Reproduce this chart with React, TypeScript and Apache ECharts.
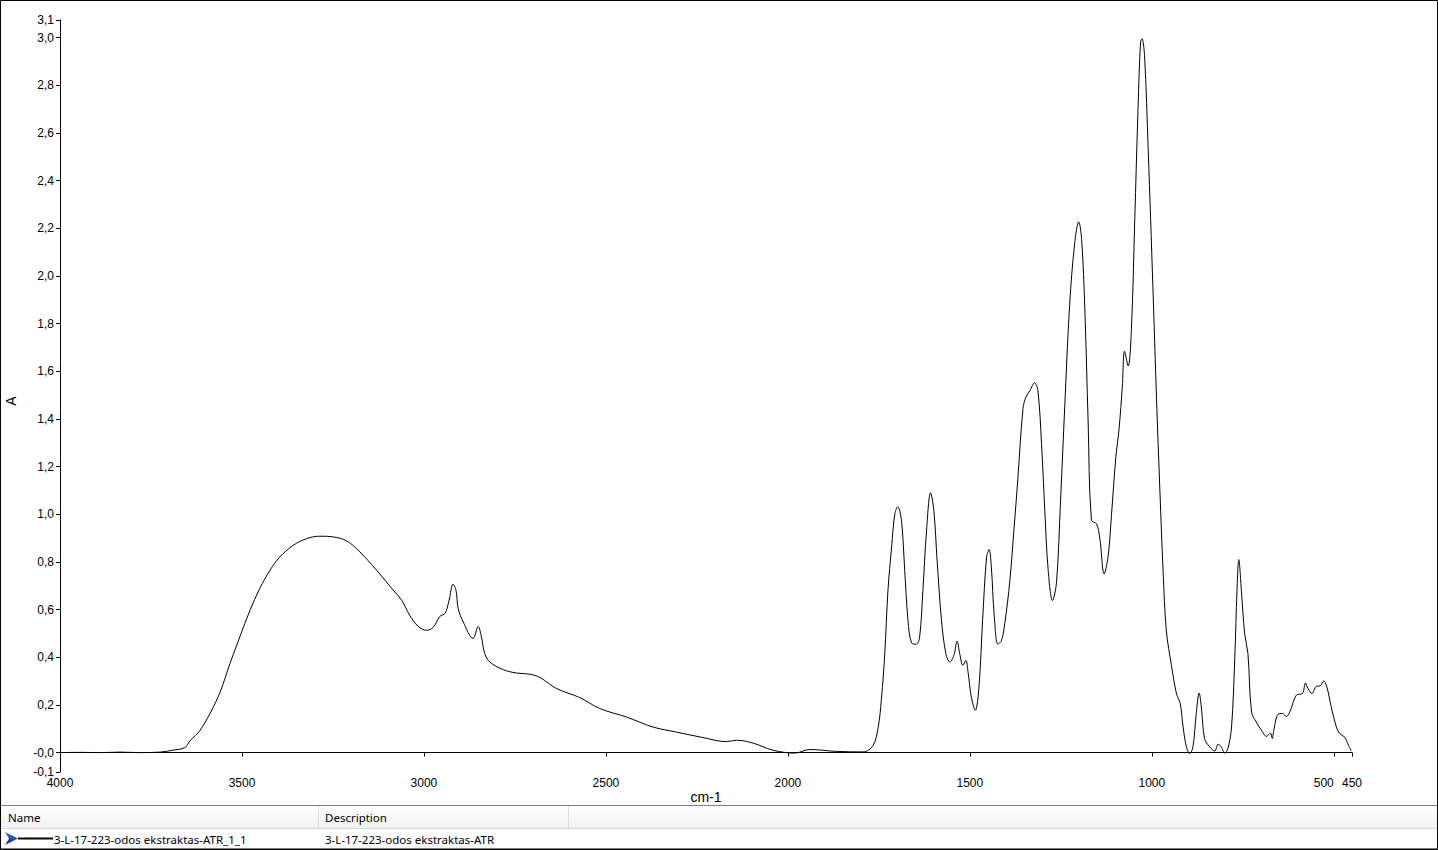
import React, { useEffect, useRef } from "react";
import * as echarts from "echarts";

// Spectrum: wavenumber (cm-1) and absorbance (A)
const wavenumbers = [
  4000, 3945, 3890, 3835, 3780, 3725, 3690, 3657, 3643, 3615, 3588, 3560, 3533, 3506, 3478, 3451, 3423, 3396, 3359, 3322,
  3286, 3249, 3212, 3176, 3130, 3084, 3061, 3039, 3016, 2993, 2975, 2956, 2942, 2931, 2920, 2912, 2906, 2892, 2865, 2851,
  2842, 2833, 2819, 2782, 2746, 2709, 2681, 2636, 2572, 2517, 2443, 2370, 2306, 2233, 2169, 2141, 2096, 2041, 1981, 1940,
  1866, 1793, 1766, 1752, 1743, 1734, 1725, 1715, 1706, 1698, 1688, 1679, 1670, 1660, 1647, 1638, 1629, 1619, 1608, 1599,
  1590, 1578, 1566, 1555, 1544, 1535, 1528, 1519, 1511, 1505, 1496, 1485, 1475, 1465, 1454, 1447, 1441, 1433, 1423, 1413,
  1404, 1390, 1379, 1368, 1354, 1346, 1335, 1322, 1313, 1303, 1294, 1285, 1273, 1262, 1251, 1239, 1226, 1212, 1201, 1193,
  1184, 1175, 1166, 1152, 1143, 1131, 1120, 1111, 1099, 1090, 1081, 1075, 1065, 1056, 1047, 1038, 1031, 1027, 1020, 1010,
  997, 987, 978, 969, 960, 946, 932, 922, 914, 905, 896, 887, 878, 870, 864, 855, 841, 827, 818, 809,
  800, 791, 781, 772, 766, 761, 754, 745, 736, 726, 713, 699, 685, 674, 669, 665, 653, 641, 630, 621,
  603, 586, 578, 571, 560, 548, 537, 528, 519, 507, 493, 484, 470, 461, 452,
];
const absorbance = [
  0.0, 0.001, 0.0, 0.002, 0.0, 0.002, 0.01, 0.021, 0.049, 0.094, 0.164, 0.254, 0.374, 0.485, 0.597, 0.689, 0.765, 0.821, 0.87, 0.898,
  0.908, 0.905, 0.888, 0.842, 0.765, 0.681, 0.639, 0.576, 0.53, 0.513, 0.525, 0.572, 0.584, 0.639, 0.707, 0.681, 0.605, 0.548, 0.479, 0.529,
  0.485, 0.416, 0.38, 0.348, 0.334, 0.329, 0.315, 0.269, 0.231, 0.185, 0.149, 0.107, 0.086, 0.063, 0.046, 0.052, 0.04, 0.01, -0.002, 0.013,
  0.005, 0.003, 0.03, 0.105, 0.225, 0.41, 0.681, 0.863, 1.003, 1.031, 0.975, 0.765, 0.555, 0.46, 0.455, 0.485, 0.681, 0.933, 1.09, 1.017,
  0.807, 0.555, 0.416, 0.38, 0.408, 0.468, 0.416, 0.366, 0.387, 0.338, 0.233, 0.178, 0.275, 0.555, 0.821, 0.852, 0.779, 0.574, 0.455, 0.471,
  0.542, 0.723, 0.933, 1.152, 1.444, 1.491, 1.519, 1.552, 1.519, 1.294, 1.013, 0.769, 0.638, 0.713, 1.051, 1.462, 1.875, 2.137, 2.227, 2.156,
  1.857, 1.387, 0.975, 0.96, 0.9, 0.75, 0.825, 0.994, 1.238, 1.359, 1.538, 1.684, 1.622, 1.781, 2.231, 2.699, 2.981, 2.995, 2.924, 2.531,
  1.95, 1.481, 1.106, 0.76, 0.51, 0.365, 0.245, 0.206, 0.107, 0.024, -0.004, 0.024, 0.164, 0.25, 0.191, 0.059, 0.024, 0.007, 0.035, 0.024,
  -0.002, 0.017, 0.107, 0.401, 0.681, 0.81, 0.681, 0.5, 0.416, 0.17, 0.128, 0.094, 0.068, 0.082, 0.059, 0.094, 0.161, 0.164, 0.152, 0.17,
  0.241, 0.248, 0.292, 0.269, 0.248, 0.278, 0.28, 0.301, 0.275, 0.191, 0.107, 0.08, 0.065, 0.035, 0.007,
];

const xTickValues = [4000, 3500, 3000, 2500, 2000, 1500, 1000, 500, 450];
const xLabelValues = [4000, 3500, 3000, 2500, 2000, 1500, 1000, 450];
const xShiftedLabelValues = [500];
const yTickValues = [-0.0814, 0, 0.2, 0.4, 0.6, 0.8, 1.0, 1.2, 1.4, 1.6, 1.8, 2.0, 2.2, 2.4, 2.6, 2.8, 3.0, 3.074];
const yTickLabels = ["-0,1", "-0,0", "0,2", "0,4", "0,6", "0,8", "1,0", "1,2", "1,4", "1,6", "1,8", "2,0", "2,2", "2,4", "2,6", "2,8", "3,0", "3,1"];

const xAxisTitle = "cm-1";
const yAxisTitle = "A";
const tableHeaders = ["Name", "Description"];
const rowName = "3-L-17-223-odos ekstraktas-ATR_1_1";
const rowDescription = "3-L-17-223-odos ekstraktas-ATR";

export default function App() {
  const ref = useRef<HTMLDivElement>(null);

  useEffect(() => {
    if (!ref.current) return;
    const chart = echarts.init(ref.current, null, { renderer: "svg" });
    const axisFont = { fontFamily: "Liberation Sans", fontSize: 12, color: "#000" };
    const tableFont = { fontFamily: "Noto Sans", fontSize: 11.5, fill: "#000" };
    const xMin = 450;
    const xMax = 4000;

    chart.setOption({
      animation: false,
      backgroundColor: "#fff",
      grid: { left: 60, right: 86, top: 20, bottom: 78, containLabel: false, outerBoundsMode: "none" },
      xAxis: [
        {
          type: "value",
          inverse: true,
          min: xMin,
          max: xMax,
          position: "bottom",
          name: xAxisTitle,
          nameLocation: "middle",
          nameGap: 25,
          nameMoveOverlap: false,
          nameTextStyle: { fontFamily: "Liberation Sans", fontSize: 14, color: "#000", verticalAlign: "middle" },
          axisLine: { show: true, lineStyle: { color: "#000", width: 1 } },
          axisTick: { show: true, length: 4, inside: false, lineStyle: { color: "#000" }, customValues: xTickValues },
          axisLabel: {
            ...axisFont,
            margin: 5,
            hideOverlap: false,
            customValues: xLabelValues,
            formatter: (v: number) => String(v),
          },
          splitLine: { show: false },
        },
        {
          type: "value",
          inverse: true,
          min: xMin,
          max: xMax,
          position: "bottom",
          offset: 0,
          axisLine: { show: false },
          axisTick: { show: false },
          axisLabel: {
            ...axisFont,
            margin: 5,
            align: "right",
            hideOverlap: false,
            customValues: xShiftedLabelValues,
            formatter: (v: number) => String(v),
          },
          splitLine: { show: false },
        },
      ],
      yAxis: {
        type: "value",
        min: yTickValues[0],
        max: yTickValues[yTickValues.length - 1],
        name: yAxisTitle,
        nameLocation: "middle",
        nameGap: 49,
        nameMoveOverlap: false,
        nameTextStyle: { fontFamily: "Liberation Sans", fontSize: 14, color: "#000", verticalAlign: "middle", padding: [0, 10, 0, 0] },
        axisLine: { show: true, lineStyle: { color: "#000", width: 1 } },
        axisTick: { show: true, length: 4, inside: false, lineStyle: { color: "#000" }, customValues: yTickValues },
        axisLabel: {
          ...axisFont,
          margin: 6,
          hideOverlap: false,
          showMinLabel: true,
          showMaxLabel: true,
          customValues: yTickValues,
          formatter: (v: number) => {
            const i = yTickValues.findIndex((t) => Math.abs(t - v) < 1e-6);
            return i >= 0 ? yTickLabels[i] : "";
          },
        },
        splitLine: { show: false },
      },
      series: [
        {
          type: "line",
          xAxisIndex: 0,
          data: wavenumbers.map((w, i) => [w, absorbance[i]]),
          showSymbol: false,
          smooth: 0.35,
          lineStyle: { color: "#000", width: 1 },
          silent: true,
        },
      ],
      graphic: [
        {
          type: "rect",
          shape: { x: 1, y: 806, width: 1436, height: 22 },
          style: {
            fill: new echarts.graphic.LinearGradient(0, 0, 0, 1, [
              { offset: 0, color: "#ffffff" },
              { offset: 1, color: "#f0f1f3" },
            ]),
          },
          silent: true,
        },
        { type: "line", shape: { x1: 1, y1: 805.5, x2: 1437, y2: 805.5 }, style: { stroke: "#7f7f7f", lineWidth: 1 }, silent: true },
        { type: "line", shape: { x1: 1, y1: 828.5, x2: 1437, y2: 828.5 }, style: { stroke: "#d8d8d8", lineWidth: 1 }, silent: true },
        { type: "line", shape: { x1: 1, y1: 848.5, x2: 1437, y2: 848.5 }, style: { stroke: "#7f7f7f", lineWidth: 1 }, silent: true },
        { type: "line", shape: { x1: 318.5, y1: 806, x2: 318.5, y2: 828 }, style: { stroke: "#dcdcdc", lineWidth: 1 }, silent: true },
        { type: "line", shape: { x1: 568.5, y1: 806, x2: 568.5, y2: 828 }, style: { stroke: "#dcdcdc", lineWidth: 1 }, silent: true },
        {
          type: "rect",
          shape: { x: 0.5, y: 0.5, width: 1437, height: 849 },
          style: { fill: "none", stroke: "#000", lineWidth: 1 },
          silent: true,
        },
        {
          type: "text",
          x: 8,
          y: 817,
          style: { ...tableFont, text: tableHeaders[0], verticalAlign: "middle", align: "left" },
          silent: true,
        },
        {
          type: "text",
          x: 325,
          y: 817,
          style: { ...tableFont, text: tableHeaders[1], verticalAlign: "middle", align: "left" },
          silent: true,
        },
        {
          type: "polygon",
          shape: { points: [[5, 832], [18, 838.5], [5, 845], [9, 838.5]] },
          style: {
            fill: new echarts.graphic.LinearGradient(0, 0, 0, 1, [
              { offset: 0, color: "#3f6fe0" },
              { offset: 1, color: "#0c2a8a" },
            ]),
          },
          silent: true,
        },
        { type: "line", shape: { x1: 18, y1: 838.5, x2: 53, y2: 838.5 }, style: { stroke: "#000", lineWidth: 2 }, silent: true },
        {
          type: "text",
          x: 54,
          y: 839,
          style: { ...tableFont, text: rowName, verticalAlign: "middle", align: "left" },
          silent: true,
        },
        {
          type: "text",
          x: 325,
          y: 839,
          style: { ...tableFont, text: rowDescription, verticalAlign: "middle", align: "left" },
          silent: true,
        },
      ],
    });

    return () => chart.dispose();
  }, []);

  return (
    <div
      ref={ref}
      style={{ position: "fixed", left: 0, top: 0, width: 1438, height: 850, background: "#fff" }}
    />
  );
}
